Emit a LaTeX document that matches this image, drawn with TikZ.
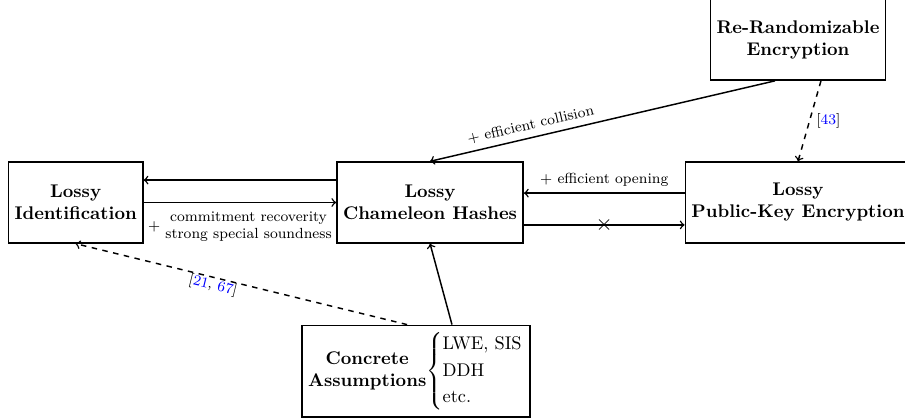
\documentclass[tikz,border=0pt]{standalone}
\usepackage{amsmath}
\usepackage{tikz}

\begin{document}
\begin{tikzpicture}[
    block/.style={draw, thick, align=center, minimum height=1.55cm, font=\bfseries},
    note/.style={font=\footnotesize},
  ]

  \useasboundingbox (-8.24, -4.15) rectangle (9.10, 3.88);

  \node[block] (cham) at (0, 0) {Lossy\\Chameleon Hashes};
  \node[block] (ident) at (-6.79, 0) {Lossy\\Identification};
  \node[block] (pke) at (7.05, 0) {Lossy\\Public-Key Encryption};
  \node[block] (rerand) at (7.05, 3.12) {Re-Randomizable\\Encryption};
  \node[block, font=\normalfont] (assum) at (-0.27, -3.23)
  {\textbf{\begin{tabular}{@{}c@{}}Concrete\\Assumptions\end{tabular}}%
    \def\arraystretch{1.2}%
    $\left\{\begin{tabular}{@{}l@{}}LWE, SIS\\DDH\\etc.\end{tabular}\right.$};

  \draw[thick, ->] ([yshift=.43cm]cham.west) -- ([yshift=.43cm]ident.east);
  \draw[thick, ->] (ident.east) -- (cham.west)
  node[midway, below, note] {$+$ \begin{tabular}{@{}c@{}}commitment recoverity\\strong special soundness\end{tabular}};

  \draw[thick, ->] ([yshift=.18cm]pke.west) -- ([yshift=.18cm]cham.east)
  node[midway, above, note] {$+$ efficient opening};
  \draw[thick, ->] ([yshift=-.43cm]cham.east) -- ([yshift=-.43cm]pke.west)
  node[midway] {\large $\times$};

  \draw[thick, ->] ([xshift=-.44cm]rerand.south) -- (cham.north)
  node[pos=.7, above, sloped, note] {$+$ efficient collision};
  \draw[thick, dashed, ->] ([xshift=.44cm]rerand.south) -- (pke.north)
  node[midway, right, note] {[\textcolor{blue}{43}]};

  \draw[thick, ->] ([xshift=.69cm]assum.north) -- (cham.south);
  \draw[thick, dashed, ->] ([xshift=-.17cm]assum.north) -- (ident.south)
  node[pos=.58, below, sloped, inner sep=0pt, note] {[\textcolor{blue}{21}, \textcolor{blue}{67}]};

\end{tikzpicture}
\end{document}
